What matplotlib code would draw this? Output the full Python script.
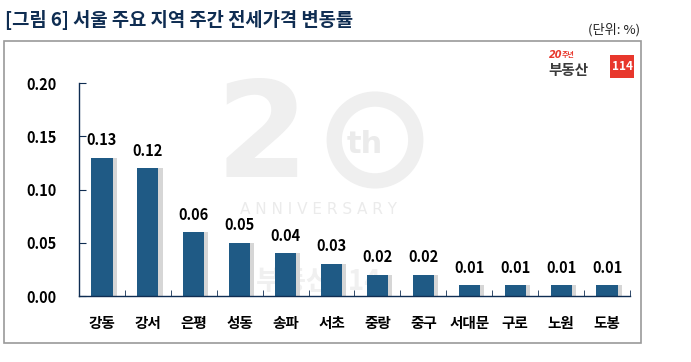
import matplotlib.pyplot as plt
from matplotlib.patches import Rectangle, Ellipse
import numpy as np

plt.rcParams['font.family'] = ['Noto Sans CJK KR', 'DejaVu Sans']

# data
regions = ['강동', '강서', '은평', '성동', '송파', '서초', '중랑', '중구', '서대문', '구로', '노원', '도봉']
change = [0.13, 0.12, 0.06, 0.05, 0.04, 0.03, 0.02, 0.02, 0.01, 0.01, 0.01, 0.01]
yticks = [0.00, 0.05, 0.10, 0.15, 0.20]

bar_color = '#1f5a85'
navy = '#0f2d52'
wm = '#efefef'

fig = plt.figure(figsize=(6.91, 3.62), dpi=100)

# outer frame
fig.patches.append(Rectangle((0.0058, 0.0525), 0.9218, 0.8342, transform=fig.transFigure,
                             fill=False, edgecolor='#9a9a9a', linewidth=1.2))

fig.text(0.007, 0.945, '[그림 6] 서울 주요 지역 주간 전세가격 변동률', fontsize=13.5,
         fontweight='bold', color=navy, va='center', ha='left')
fig.text(0.927, 0.918, '(단위: %)', fontsize=9.5, color='#222222', va='center', ha='right')

# logo
fig.text(0.795, 0.848, '20', fontsize=7, color='#e8372c', fontweight='bold', va='center',
         style='italic', family='DejaVu Sans')
fig.text(0.813, 0.850, '주년', fontsize=5, color='#e8372c', fontweight='bold', va='center')
fig.text(0.794, 0.808, '부동산', fontsize=10.5, color='#3a3a3a', fontweight='bold', va='center')
fig.patches.append(Rectangle((0.883, 0.785), 0.035, 0.062, transform=fig.transFigure,
                             facecolor='#e8372c', edgecolor='none'))
fig.text(0.9005, 0.815, '114', fontsize=8.5, color='white', fontweight='bold', va='center', ha='center')

# watermark ring (behind the axes)
fig.patches.append(Ellipse((0.5427, 0.6133), 0.118, 0.226, transform=fig.transFigure,
                           fill=False, edgecolor=wm, linewidth=11, zorder=-1))

ax = fig.add_axes([0.1143, 0.1823, 0.7974, 0.5884])
ax.patch.set_alpha(0)
x = np.arange(len(regions))

# watermark text
ax.text(3.49, 0.1465, '2', fontsize=96, fontweight='heavy', color=wm,
        ha='center', va='center', zorder=0, family='DejaVu Sans')
ax.text(5.73, 0.142, 'th', fontsize=22, fontweight='bold', color='#ebebeb',
        ha='center', va='center', zorder=0, family='DejaVu Sans')
ax.text(4.71, 0.081, 'A N N I V E R S A R Y', fontsize=11, color='#ebebeb',
        ha='center', va='center', zorder=0, family='DejaVu Sans')
ax.text(4.71, 0.013, '부동산114', fontsize=20, fontweight='bold', color='#f0f0f0',
        ha='center', va='center', zorder=0)

# shadow + bars
ax.bar(x + 0.09, change, width=0.46, color='#d6d6d6', zorder=1)
ax.bar(x, change, width=0.46, color=bar_color, zorder=2)

for xi, v in zip(x, change):
    ax.text(xi, v + 0.009, f'{v:.2f}', ha='center', va='bottom', fontsize=10.5,
            fontweight='bold', color='black', zorder=3)

ax.set_xlim(-0.5, len(regions) - 0.5)
ax.set_ylim(0, 0.20)
ax.set_yticks(yticks)
ax.set_yticklabels([f'{t:.2f}' for t in yticks], fontsize=10.5, fontweight='bold')
ax.set_xticks(x)
ax.set_xticklabels(regions, fontsize=10.5, fontweight='bold')
ax.set_xticks(np.arange(len(regions) + 1) - 0.5, minor=True)
ax.tick_params(axis='x', which='major', length=0, pad=14)
ax.tick_params(axis='x', which='minor', direction='in', length=4, color=navy)
ax.tick_params(axis='y', direction='in', length=5, color=navy, pad=16)

for s in ['top', 'right']:
    ax.spines[s].set_visible(False)
for s in ['left', 'bottom']:
    ax.spines[s].set_color(navy)
    ax.spines[s].set_linewidth(1.0)

fig.savefig('out.png', dpi=100)
